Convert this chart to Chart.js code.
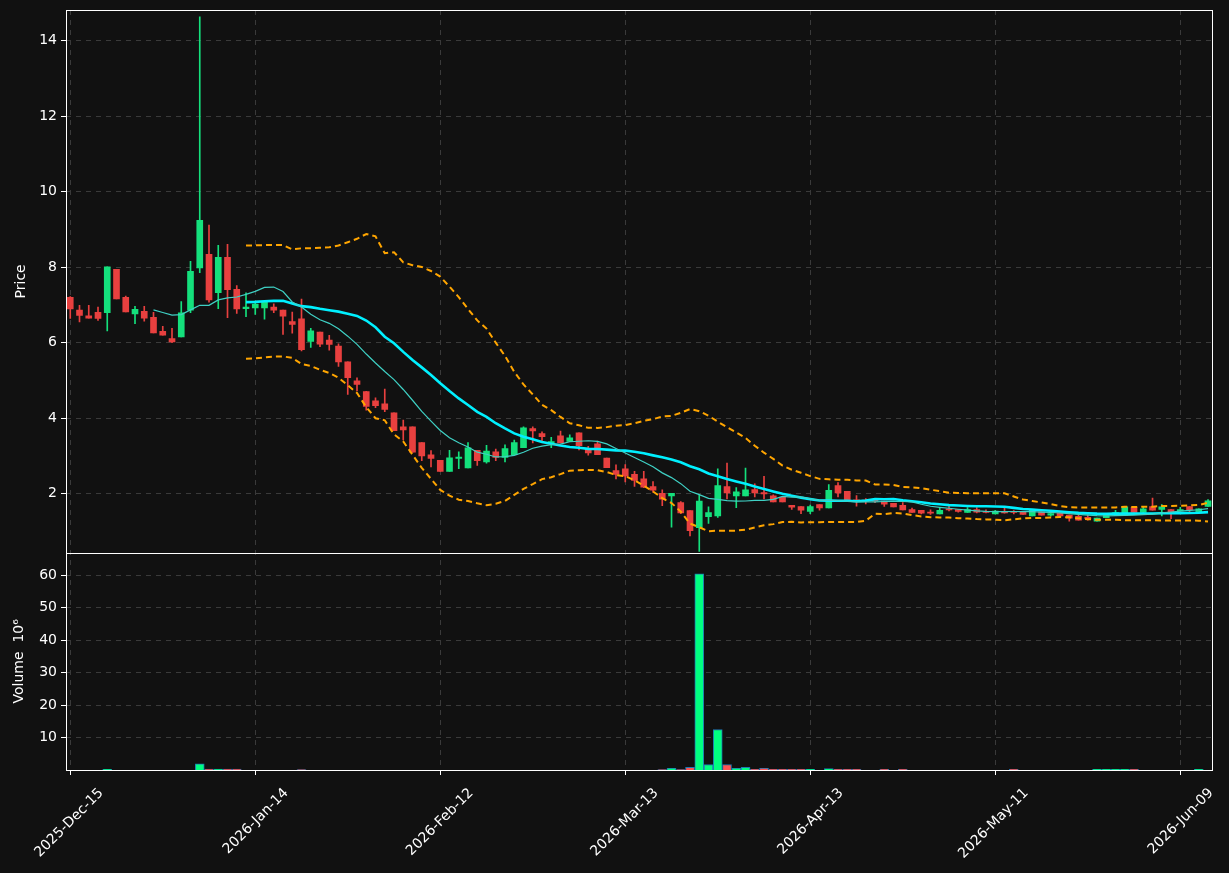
<!DOCTYPE html>
<html>
<head>
<meta charset="utf-8">
<script src="https://cdn.jsdelivr.net/npm/chart.js@4.4.1/dist/chart.umd.min.js"></script>
<style>
  html, body { margin: 0; padding: 0; background: #111111; }
  #wrap { width: 1229px; height: 873px; }
</style>
</head>
<body>
<div id="wrap"><canvas id="chart" width="1229" height="873"></canvas></div>
<script>
// daily candles, index 0 = 2025-Dec-15 (trading days)
const openP = [7.20,6.86,6.71,6.80,6.79,7.94,7.20,6.76,6.83,6.67,6.30,6.11,6.15,6.86,7.98,8.34,7.32,8.26,7.41,6.90,
  6.92,6.92,6.94,6.86,6.56,6.63,6.03,6.28,6.07,5.91,5.49,4.99,4.70,4.46,4.38,4.14,3.77,3.77,3.35,3.03,
  2.88,2.59,2.93,2.68,3.15,2.84,3.11,2.96,3.03,3.22,3.72,3.59,3.34,3.53,3.38,3.61,3.18,3.32,2.94,2.61,
  2.66,2.51,2.39,2.19,2.01,1.94,1.76,1.55,1.10,1.39,1.41,2.19,1.94,1.94,2.11,2.03,1.94,1.90,1.69,1.66,
  1.53,1.71,1.62,2.21,2.06,1.82,1.83,1.84,1.80,1.74,1.69,1.58,1.56,1.51,1.46,1.59,1.58,1.50,1.58,1.52,
  1.46,1.52,1.52,1.51,1.41,1.52,1.43,1.49,1.43,1.40,1.37,1.27,1.36,1.47,1.42,1.63,1.50,1.66,1.58,1.58,
  1.54,1.66,1.52,1.66];
const highP = [7.22,6.99,6.99,6.94,8.01,7.94,7.23,6.96,6.96,6.80,6.43,6.38,7.09,8.15,14.63,9.11,8.58,8.60,7.51,7.32,
  7.10,7.08,7.03,6.86,6.81,7.15,6.38,6.28,6.19,5.97,5.49,5.07,4.71,4.54,4.77,4.14,3.95,3.77,3.35,3.14,
  2.88,3.15,3.11,3.35,3.15,3.28,3.18,3.29,3.42,3.77,3.77,3.64,3.49,3.66,3.56,3.61,3.25,3.39,2.94,2.76,
  2.77,2.59,2.59,2.32,2.10,2.01,1.79,1.55,1.97,1.65,2.66,2.81,2.16,2.68,2.26,2.46,1.97,1.90,1.69,1.66,
  1.70,1.71,2.24,2.29,2.06,1.95,1.87,1.87,1.80,1.74,1.76,1.62,1.56,1.57,1.63,1.67,1.58,1.63,1.63,1.57,
  1.56,1.63,1.55,1.51,1.57,1.52,1.52,1.49,1.43,1.45,1.44,1.35,1.44,1.56,1.65,1.63,1.66,1.88,1.71,1.58,
  1.64,1.66,1.60,1.84];
const lowP = [6.64,6.55,6.65,6.59,6.31,7.16,6.81,6.50,6.57,6.26,6.20,6.00,6.15,6.79,7.85,7.07,6.90,6.66,6.77,6.69,
  6.75,6.62,6.79,6.22,6.25,5.78,5.87,5.89,5.80,5.37,4.63,4.72,4.21,4.28,4.17,3.67,3.42,3.09,2.87,2.71,
  2.59,2.59,2.66,2.68,2.75,2.81,2.87,2.84,3.03,3.22,3.34,3.40,3.22,3.34,3.38,3.16,3.02,3.03,2.69,2.39,
  2.31,2.19,2.16,2.04,1.68,1.11,1.47,0.88,0.47,1.21,1.37,1.86,1.63,1.94,1.91,1.86,1.78,1.78,1.58,1.47,
  1.47,1.56,1.62,1.91,1.84,1.67,1.73,1.76,1.66,1.65,1.57,1.50,1.46,1.45,1.46,1.54,1.51,1.50,1.49,1.49,
  1.46,1.48,1.46,1.45,1.41,1.43,1.40,1.41,1.27,1.30,1.30,1.27,1.36,1.43,1.42,1.50,1.45,1.56,1.41,1.34,
  1.54,1.52,1.52,1.66];
const closeP = [6.89,6.72,6.65,6.64,8.01,7.16,6.81,6.88,6.65,6.26,6.20,6.02,6.79,7.89,9.24,7.13,8.26,7.40,6.89,6.94,
  7.02,7.08,6.86,6.70,6.48,5.81,6.31,5.96,5.95,5.49,5.07,4.89,4.31,4.33,4.23,3.67,3.69,3.10,3.00,2.93,
  2.59,2.95,2.97,3.21,2.87,3.13,2.96,3.19,3.35,3.74,3.66,3.51,3.38,3.34,3.48,3.27,3.08,3.03,2.69,2.51,
  2.46,2.35,2.17,2.09,1.85,2.01,1.49,1.02,1.80,1.50,2.21,2.02,2.05,2.10,2.02,1.99,1.78,1.78,1.64,1.56,
  1.66,1.62,2.09,2.02,1.84,1.81,1.80,1.80,1.72,1.65,1.57,1.50,1.48,1.48,1.56,1.57,1.53,1.58,1.51,1.50,
  1.54,1.49,1.50,1.45,1.57,1.43,1.47,1.41,1.35,1.30,1.34,1.35,1.44,1.50,1.65,1.50,1.60,1.56,1.65,1.52,
  1.58,1.57,1.60,1.81];
// volume in millions
const volume = [0,0,0,0,0.2,0,0,0,0,0,0,0,0,0,1.9,0.3,0.3,0.3,0.3,0,
  0,0,0,0,0,0.15,0,0,0,0,0,0,0,0,0,0,0,0,0,0,
  0,0,0,0,0,0,0,0,0,0,0,0,0,0,0,0,0,0,0,0,
  0,0,0,0,0.15,0.5,0.1,0.8,60.5,1.7,12.5,1.7,0.5,0.8,0.2,0.5,0.2,0.2,0.2,0.2,
  0.2,0,0.4,0.2,0.2,0.2,0,0,0.2,0,0.2,0,0,0,0,0,0,0,0,0,
  0,0,0.2,0,0,0,0,0,0,0,0,0.2,0.2,0.2,0.2,0.2,0,0,0,0,
  0,0,0.2,0];

const tickIdx = [0, 20, 40, 60, 80, 100, 120];
const tickLabels = ['2025-Dec-15', '2026-Jan-14', '2026-Feb-12', '2026-Mar-13', '2026-Apr-13', '2026-May-11', '2026-Jun-09'];
const priceTicks = [2, 4, 6, 8, 10, 12, 14];
const volTicks = [10, 20, 30, 40, 50, 60];

const UP = '#14e07c', DOWN = '#e8403f';
const VUP = '#00ff80', VDOWN = '#ff5252';
const FONT = 'DejaVu Sans';

const isUp = closeP.map((c, i) => c >= openP[i]);

// moving averages / bollinger from the closes
function rolling(n, i) {
  if (i < n - 1) return null;
  const w = closeP.slice(i - n + 1, i + 1);
  const m = w.reduce((a, b) => a + b, 0) / n;
  const sd = Math.sqrt(w.reduce((a, b) => a + (b - m) * (b - m), 0) / n);
  return { m, sd };
}
const ma10 = closeP.map((_, i) => { const r = rolling(10, i); return { x: i, y: r ? r.m : null }; });
const ma20 = closeP.map((_, i) => { const r = rolling(20, i); return { x: i, y: r ? r.m : null }; });
const bbUp = closeP.map((_, i) => { const r = rolling(20, i); return { x: i, y: r ? r.m + 2 * r.sd : null }; });
const bbLo = closeP.map((_, i) => { const r = rolling(20, i); return { x: i, y: r ? r.m - 2 * r.sd : null }; });

const wicks = highP.map((h, i) => ({ x: i, y: [lowP[i], h] }));
const bodies = openP.map((o, i) => ({ x: i, y: [o, closeP[i]] }));
const vols = volume.map((v, i) => ({ x: i, y: v }));

const frame = {
  id: 'frame',
  beforeDraw(chart) {
    const ctx = chart.ctx;
    ctx.save();
    ctx.fillStyle = '#111111';
    ctx.fillRect(0, 0, chart.width, chart.height);
    ctx.restore();
  },
  afterDraw(chart) {
    const ctx = chart.ctx, a = chart.chartArea;
    ctx.save();
    ctx.strokeStyle = '#ffffff';
    ctx.lineWidth = 1;
    ['y', 'v'].forEach(id => {
      const s = chart.scales[id];
      ctx.strokeRect(Math.round(a.left) + 0.5, Math.round(s.top) + 0.5, Math.round(a.right - a.left), Math.round(s.bottom - s.top));
    });
    ctx.restore();
  }
};

const line = (data, color, width, dash) => ({
  type: 'line', data, borderColor: color, borderWidth: width, borderDash: dash || [],
  pointRadius: 0, tension: 0, yAxisID: 'y', order: 0, spanGaps: false
});

const gridY = { color: '#3a3a3a', tickColor: '#ffffff', tickLength: 5, drawTicks: true };
const tickFont = { family: FONT, size: 14 };

new Chart(document.getElementById('chart'), {
  data: {
    datasets: [
      line(bbUp, '#ffa500', 2, [6, 4]),
      line(bbLo, '#ffa500', 2, [6, 4]),
      line(ma10, '#3fd0c4', 1.2),
      line(ma20, '#00f0ff', 2.6),
      {
        type: 'bar', data: bodies, yAxisID: 'y', grouped: false, barThickness: 6, minBarLength: 1,
        backgroundColor: isUp.map(u => u ? UP : DOWN), order: 1
      },
      {
        type: 'bar', data: wicks, yAxisID: 'y', grouped: false, barThickness: 1,
        backgroundColor: isUp.map(u => u ? UP : DOWN), order: 2
      },
      {
        type: 'bar', data: vols, yAxisID: 'v', grouped: false, barThickness: 9,
        backgroundColor: isUp.map(u => u ? VUP : VDOWN), borderColor: '#1f77b4', borderWidth: 1, order: 1
      }
    ]
  },
  options: {
    responsive: false,
    animation: false,
    devicePixelRatio: 1,
    layout: { padding: { top: 10, right: 17, left: 0, bottom: 0 } },
    plugins: { legend: { display: false }, tooltip: { enabled: false } },
    scales: {
      x: {
        type: 'linear', min: -0.46, max: 123.43, offset: false,
        afterBuildTicks: s => { s.ticks = tickIdx.map(v => ({ value: v })); },
        afterFit: s => { s.height = 103; s.paddingLeft = 0; s.paddingRight = 0; },
        ticks: {
          color: '#ffffff', font: tickFont, minRotation: 45, maxRotation: 45, padding: 10, labelOffset: 31,
          callback: v => tickLabels[tickIdx.indexOf(v)]
        },
        grid: { color: '#3a3a3a', tickColor: '#ffffff', tickLength: 5, offset: false },
        border: { display: false, dash: [5, 5] }
      },
      y: {
        type: 'linear', position: 'left', stack: 'panels', stackWeight: 542, weight: 2,
        min: 0.435, max: 14.81,
        afterBuildTicks: s => { s.ticks = priceTicks.map(v => ({ value: v })); },
        afterFit: s => { s.width = 66; s.paddingTop = 0; s.paddingBottom = 0; },
        ticks: { color: '#ffffff', font: tickFont, padding: 4 },
        grid: gridY,
        border: { display: false, dash: [5, 5] },
        title: { display: true, text: 'Price', color: '#ffffff', font: tickFont, padding: { top: 13, bottom: 0 } }
      },
      v: {
        type: 'linear', position: 'left', stack: 'panels', stackWeight: 217, weight: 1,
        min: 0, max: 67,
        afterBuildTicks: s => { s.ticks = volTicks.map(v => ({ value: v })); },
        afterFit: s => { s.width = 66; s.paddingTop = 0; s.paddingBottom = 0; },
        ticks: { color: '#ffffff', font: tickFont, padding: 4 },
        grid: gridY,
        border: { display: false, dash: [5, 5] },
        title: { display: true, text: 'Volume  10⁶', color: '#ffffff', font: tickFont, padding: { top: 11, bottom: 0 } }
      }
    }
  },
  plugins: [frame]
});
</script>
</body>
</html>
